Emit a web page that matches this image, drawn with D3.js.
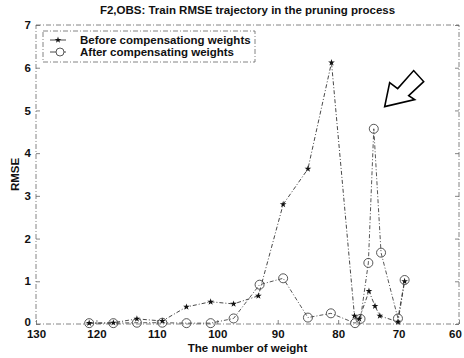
<!DOCTYPE html>
<html>
<head>
<meta charset="utf-8">
<script src="https://cdn.jsdelivr.net/npm/d3@7"></script>
<style>
  body { margin: 0; background: #fff; }
  text { font-family: "Liberation Sans", Arial, sans-serif; font-weight: bold; fill: #111; }
</style>
</head>
<body>
<div id="chart"></div>
<script>
// values
const xTicks = [130, 120, 110, 100, 90, 80, 70, 60];
const yTicks = [0, 1, 2, 3, 4, 5, 6, 7];

const beforeX = [121.2, 117.2, 113.3, 109.1, 105.1, 101.1, 97.3, 93.2, 89.1, 85.0, 81.1, 77.3, 76.5, 74.9, 73.9, 73.1, 70.1, 69.0];
const beforeY = [0.02, 0.03, 0.12, 0.07, 0.40, 0.52, 0.47, 0.66, 2.80, 3.63, 6.12, 0.19, 0.12, 0.77, 0.42, 0.19, 0.05, 1.00];

const afterX = [121.2, 117.2, 113.3, 109.1, 105.1, 101.1, 97.3, 93.0, 89.1, 85.0, 81.2, 77.2, 76.3, 75.0, 74.1, 72.9, 70.1, 69.0];
const afterY = [0.02, 0.02, 0.03, 0.03, 0.02, 0.02, 0.13, 0.92, 1.07, 0.15, 0.25, 0.02, 0.12, 1.43, 4.57, 1.67, 0.13, 1.03];

const legendLabels = ["Before compensationg weights", "After compensating weights"];

// annotation arrow: tip in data units, outline as pixel offsets from the tip
const arrowTip = [72.3, 5.09];
const arrowShape = [[0, 0], [5, -24], [13, -18], [29, -36], [39, -25], [24, -11], [30, -7]];

const W = 464, H = 358;
const margin = { top: 25, right: 5, bottom: 34, left: 36 };

const svg = d3.select("#chart").append("svg")
    .attr("width", W)
    .attr("height", H);

const x = d3.scaleLinear().domain([130, 60]).range([margin.left, W - margin.right]);
const y = d3.scaleLinear().domain([0, 7]).range([H - margin.bottom, margin.top]);

const frameStyle = "5,2,1,2";

// frame
svg.append("rect")
    .attr("x", x(130)).attr("y", y(7))
    .attr("width", x(60) - x(130)).attr("height", y(0) - y(7))
    .attr("fill", "none")
    .attr("stroke", "#666")
    .attr("stroke-width", 0.8)
    .attr("stroke-dasharray", frameStyle);

// axes with inward ticks
const xAxis = svg.append("g")
    .attr("transform", `translate(0,${y(0)})`)
    .call(d3.axisBottom(x).tickValues(xTicks).tickSize(-4).tickPadding(6).tickFormat(d3.format("d")));
const yAxis = svg.append("g")
    .attr("transform", `translate(${x(130)},0)`)
    .call(d3.axisLeft(y).tickValues(yTicks).tickSize(-4).tickPadding(5).tickFormat(d3.format("d")));
svg.append("g")
    .attr("transform", `translate(${x(60)},0)`)
    .call(d3.axisRight(y).tickValues(yTicks).tickSize(-4).tickFormat(""));

[xAxis, yAxis].forEach(a => {
    a.selectAll("text").attr("font-size", 11.5).attr("font-weight", "bold").attr("fill", "#111")
        .attr("font-family", "Liberation Sans, Arial, sans-serif");
});
yAxis.selectAll(".tick text").filter(d => d === 0).attr("dy", "0.1em");
xAxis.selectAll(".tick text").filter(d => d === 60).attr("dx", "-4");
svg.selectAll(".domain").remove();
svg.selectAll("g line").attr("stroke", "#666").attr("stroke-width", 0.8);

// title and axis labels
svg.append("text")
    .attr("x", (x(130) + x(60)) / 2)
    .attr("y", 14)
    .attr("text-anchor", "middle")
    .attr("font-size", 11.5)
    .text("F2,OBS: Train RMSE trajectory in the pruning process");

svg.append("text")
    .attr("x", (x(130) + x(60)) / 2)
    .attr("y", 352)
    .attr("text-anchor", "middle")
    .attr("font-size", 11.5)
    .text("The number of weight");

svg.append("text")
    .attr("transform", `translate(19,${(y(0) + y(7)) / 2}) rotate(-90)`)
    .attr("text-anchor", "middle")
    .attr("font-size", 11.5)
    .text("RMSE");

const before = beforeX.map((v, i) => ({ x: v, y: beforeY[i] }));
const after = afterX.map((v, i) => ({ x: v, y: afterY[i] }));

const line = d3.line().x(d => x(d.x)).y(d => y(d.y));
const lineDash = "4,2,1,2";

svg.append("path")
    .datum(after)
    .attr("d", line)
    .attr("fill", "none")
    .attr("stroke", "#444")
    .attr("stroke-width", 0.9)
    .attr("stroke-dasharray", lineDash);

svg.append("path")
    .datum(before)
    .attr("d", line)
    .attr("fill", "none")
    .attr("stroke", "#333")
    .attr("stroke-width", 0.9)
    .attr("stroke-dasharray", lineDash);

const star = d3.symbol().type(d3.symbolStar).size(14);

svg.append("g")
    .selectAll("circle")
    .data(after)
    .enter()
    .append("circle")
    .attr("cx", d => x(d.x))
    .attr("cy", d => y(d.y))
    .attr("r", 4.5)
    .attr("fill", "none")
    .attr("stroke", "#444")
    .attr("stroke-width", 0.9);

svg.append("g")
    .selectAll("path")
    .data(before)
    .enter()
    .append("path")
    .attr("d", star)
    .attr("transform", d => `translate(${x(d.x)},${y(d.y)})`)
    .attr("fill", "#111");

// legend
const lg = svg.append("g");
lg.append("rect")
    .attr("x", 43).attr("y", 31)
    .attr("width", 212).attr("height", 31)
    .attr("fill", "#fff")
    .attr("stroke", "#666")
    .attr("stroke-width", 0.8)
    .attr("stroke-dasharray", frameStyle);

legendLabels.forEach((label, i) => {
    const ly = 40 + i * 12;
    lg.append("line")
        .attr("x1", 50).attr("x2", 66)
        .attr("y1", ly).attr("y2", ly)
        .attr("stroke", "#333")
        .attr("stroke-width", 0.9);
    if (i === 0) {
        lg.append("path").attr("d", star).attr("transform", `translate(58,${ly})`).attr("fill", "#111");
    } else {
        lg.append("circle").attr("cx", 60).attr("cy", ly).attr("r", 4)
            .attr("fill", "#fff").attr("stroke", "#444").attr("stroke-width", 0.9);
    }
    lg.append("text")
        .attr("x", 80)
        .attr("y", ly + 4)
        .attr("font-size", 11.5)
        .text(label);
});

// hollow arrow annotation
const tx = x(arrowTip[0]), ty = y(arrowTip[1]);
svg.append("polygon")
    .attr("points", arrowShape.map(p => [tx + p[0], ty + p[1]].join(",")).join(" "))
    .attr("fill", "none")
    .attr("stroke", "#000")
    .attr("stroke-width", 1.6)
    .attr("stroke-linejoin", "miter");
</script>
</body>
</html>
